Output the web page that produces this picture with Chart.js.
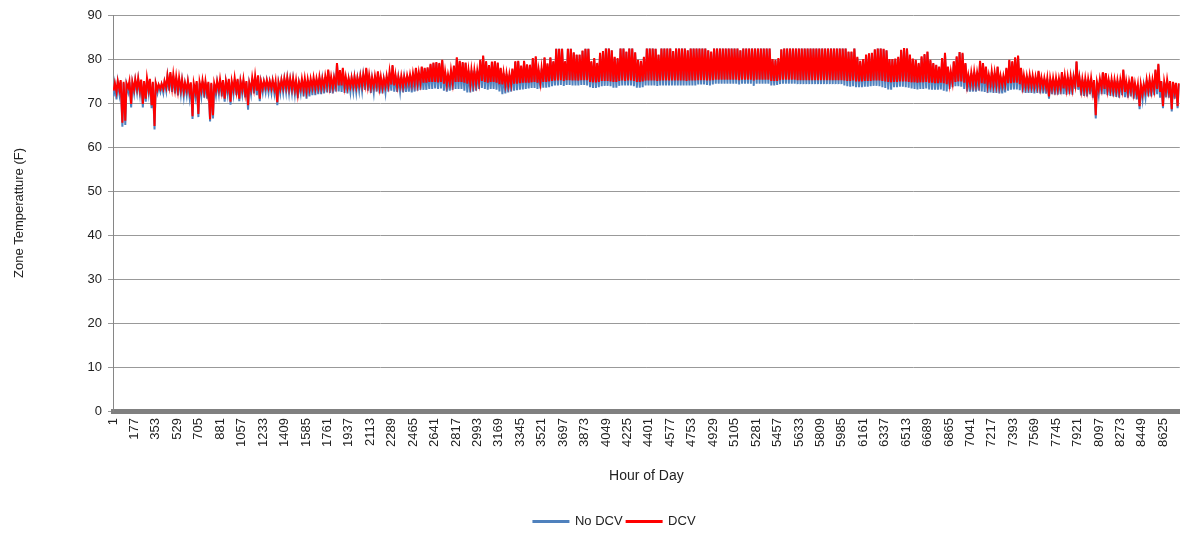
<!DOCTYPE html>
<html>
<head>
<meta charset="utf-8">
<title>Zone Temperature</title>
<script src="https://cdn.jsdelivr.net/npm/chart.js@4"></script>
<style>
  body { margin: 0; background: #fff; }
</style>
</head>
<body>
<canvas id="myChart" width="1186" height="533"></canvas>
<script>
// x軸の目盛りラベル (Hour)
var hourTicks = [1, 177, 353, 529, 705, 881, 1057, 1233, 1409, 1585,
  1761, 1937, 2113, 2289, 2465, 2641, 2817, 2993, 3169, 3345,
  3521, 3697, 3873, 4049, 4225, 4401, 4577, 4753, 4929, 5105,
  5281, 5457, 5633, 5809, 5985, 6161, 6337, 6513, 6689, 6865,
  7041, 7217, 7393, 7569, 7745, 7921, 8097, 8273, 8449, 8625];

// DCV: 1日ごとの最高・最低温度 (F)
var dcvHigh = [
  74.5, 75, 75.2, 74.8, 74.5, 75, 74.8, 75.4, 75.6, 75.3,
  75, 75.7, 75.5, 74.8, 74.5, 74.2, 74.4, 75, 76.3, 77,
  76.5, 76, 75.8, 75.3, 74.6, 75, 74.7, 74.5, 75, 74.8,
  75.2, 75, 74.8, 74.6, 74.5, 75, 75.4, 75.2, 75, 75.5,
  75, 75.7, 75.5, 75, 75.4, 75, 74.6, 75.8, 76.2, 76.3,
  75, 75, 75.2, 75, 75.2, 75, 74.8, 75.3, 75.6, 75.8,
  75.5, 75.6, 75.2, 74.8, 75.5, 75.6, 75.4, 75.5, 75.8, 75.6,
  76, 75.6, 76.2, 77.6, 76, 75.8, 79.1, 77.5, 78, 76,
  75.6, 75.8, 76, 75.8, 76.2, 76.5, 78, 76.4, 75.8, 76.2,
  77.2, 76, 75.6, 76.2, 77.2, 78.6, 76.5, 76, 76.2, 76,
  76.3, 76.5, 76.8, 78, 77, 78.3, 78, 78.1, 78.9, 79.2,
  79.3, 79.1, 79.8, 77.2, 76.5, 77.5, 78.5, 80.4, 79.6, 79.3,
  79.2, 77.5, 77.6, 77.5, 77.4, 79.8, 80.8, 79.5, 78.6, 79.4,
  79.5, 79.2, 78, 77, 76.8, 76.6, 77.8, 79.5, 79.6, 78.5,
  79.6, 78.8, 78.7, 80.2, 80.6, 77.6, 78, 80.4, 79, 80.4,
  79.5, 82.3, 82.3, 82.3, 79.5, 82.3, 82.3, 81.5, 81, 81,
  81.9, 82.3, 82.3, 79.5, 80.2, 79.1, 81.4, 81.8, 82.4, 82.4,
  82, 80.5, 80.2, 82.4, 82.4, 81.7, 82.4, 82.4, 81.5, 79.8,
  79.6, 80.5, 82.4, 82.4, 82.4, 82.3, 81, 82.4, 82.4, 82.4,
  82.4, 81.8, 82.4, 82.4, 82.4, 82.4, 82, 82.4, 82.4, 82.4,
  82.4, 82.4, 82.4, 82, 81.7, 82.4, 82.4, 82.4, 82.4, 82.4,
  82.4, 82.4, 82.4, 82.4, 82, 82.4, 82.4, 82.4, 82.4, 82.4,
  82.4, 82.4, 82.4, 82.4, 82.4, 80, 79.8, 80.2, 82.2, 82.4,
  82.4, 82.4, 82.4, 82.4, 82.4, 82.4, 82.4, 82.4, 82.4, 82.4,
  82.4, 82.4, 82.4, 82.4, 82.4, 82.4, 82.4, 82.4, 82.4, 82.4,
  82.4, 81.7, 81.7, 82.4, 80.5, 79.6, 80, 81, 81.3, 81.4,
  82.2, 82.4, 82.4, 82.3, 82, 80, 80, 80.1, 80.5, 82.1,
  82.5, 82.4, 81, 80.1, 79.8, 79.1, 80.6, 81.1, 81.7, 79.8,
  79.1, 78.7, 78.3, 80.2, 81.4, 78.3, 77.2, 79.5, 80.6, 81.6,
  81.4, 79.1, 76.4, 77, 77.2, 77, 79.6, 79.1, 78.3, 76.4,
  77.2, 77, 78.3, 76.2, 76.2, 78, 79.8, 79.5, 80.4, 80.8,
  78, 76.3, 76.2, 76.4, 76.2, 76, 77.3, 75.8, 75.7, 75.7,
  75.6, 75.7, 75.7, 75.6, 77, 76.2, 76, 76.1, 76, 79.5,
  75.8, 75.5, 75.6, 75.5, 75.7, 75.2, 74.8, 75.5, 77, 76.8,
  75.3, 75.4, 75.3, 75.2, 75.3, 77.6, 75, 74.9, 76, 74.5,
  74.2, 74.3, 74.2, 75.3, 75.4, 75.3, 77.6, 78.9, 75, 74.9,
  75.3, 75, 74.8, 74.6, 74.5
];
var dcvLow = [
  72.8, 72.5, 73, 65.5, 66, 73.5, 69.8, 73, 73.2, 72.8,
  69.8, 71, 73, 69.5, 64.8, 73, 73.2, 73.2, 73.5, 73.8,
  73.5, 73.2, 72.8, 73, 72.6, 72.8, 72.5, 67, 72.5, 67.5,
  72.8, 72.6, 72.2, 66.3, 67.2, 72.8, 73, 72.6, 71, 73,
  70.3, 73, 72.7, 71, 73, 72.2, 69.5, 73, 73.2, 72.8,
  71, 73.3, 73.5, 73.4, 73.3, 73.2, 70.2, 73.2, 73.4, 73.5,
  73.3, 73.2, 73, 72, 73.2, 73, 72.8, 73.2, 73.5, 73.4,
  73.6, 73.5, 73.7, 74, 73.8, 73.6, 74, 74, 74, 73.8,
  73.6, 73.8, 73.8, 73.7, 74, 74, 74.2, 74, 73.6, 73.8,
  74, 73.6, 73.5, 73.8, 74, 74.2, 74, 73.8, 74, 73.8,
  74.3, 74.5, 74.3, 74.5, 74.5, 74.6, 74.6, 74.6, 74.8, 74.8,
  74.8, 74.7, 74.8, 74.4, 74.3, 74.5, 74.6, 74.8, 74.8, 74.8,
  74.6, 74.4, 74.4, 74.5, 74.5, 74.8, 75, 74.8, 74.6, 74.8,
  74.8, 74.6, 74.3, 74.2, 74.2, 74.2, 74.3, 74.4, 74.4, 74.5,
  74.6, 74.6, 74.6, 74.7, 74.8, 74.6, 74.6, 74.8, 74.8, 74.9,
  75, 75.1, 75.1, 75.2, 75, 75.2, 75.2, 75.1, 75.1, 75.1,
  75.2, 75.2, 75.2, 74.8, 74.7, 74.7, 74.8, 75, 75, 75,
  74.9, 74.8, 74.8, 75, 75.1, 75, 75.1, 75.1, 75, 74.8,
  74.8, 74.9, 75.1, 75.1, 75.1, 75.1, 75, 75.1, 75.1, 75.1,
  75.1, 75.1, 75.1, 75.1, 75.1, 75.1, 75, 75.1, 75.1, 75.1,
  75.2, 75.2, 75.2, 75.1, 75.1, 75.2, 75.3, 75.3, 75.3, 75.3,
  75.3, 75.3, 75.3, 75.3, 75.2, 75.3, 75.3, 75.3, 75.3, 75.1,
  75.3, 75.3, 75.3, 75.3, 75.3, 75, 75, 75, 75.2, 75.3,
  75.3, 75.3, 75.3, 75.3, 75.2, 75.2, 75.2, 75.2, 75.2, 75.2,
  75.2, 75.2, 75.2, 75.2, 75.2, 75.2, 75.2, 75.2, 75.2, 75.2,
  75.1, 75, 75, 75.1, 74.9, 74.9, 74.9, 75, 75, 75,
  75.1, 75.1, 75.1, 75, 74.9, 74.8, 74.7, 74.8, 74.8, 74.9,
  74.9, 74.9, 74.8, 74.7, 74.7, 74.6, 74.7, 74.7, 74.8, 74.6,
  74.6, 74.5, 74.5, 74.6, 74.5, 74.3, 74.5, 74.7, 74.8, 74.9,
  74.9, 74.6, 74.2, 74.3, 74.4, 74.4, 74.6, 74.5, 74.4, 74.2,
  74.3, 74.2, 74.3, 74.1, 74.1, 74.3, 74.5, 74.5, 74.6, 74.6,
  74.3, 74, 73.9, 73.9, 73.9, 73.8, 73.9, 73.7, 73.7, 73.6,
  71.5, 73.3, 73.2, 73.2, 73.4, 73.3, 73.2, 73.3, 73.2, 74,
  73.6, 72.9, 72.9, 72.8, 73.2, 72.5, 67.2, 73, 73.3, 73.2,
  73, 73, 72.8, 72.8, 72.6, 73, 72.5, 72.4, 72.8, 72.3,
  72.2, 69.3, 72, 72.6, 72.8, 72.7, 73, 73.2, 72.5, 69.3,
  72.6, 72.5, 68.6, 72.3, 69.3
];

// No DCV: 1日ごとの最高・最低温度 (F)
var noDcvHigh = [
  74.2, 74.7, 74.9, 74.5, 74.2, 74.7, 74.5, 75.1, 75.3, 75,
  74.7, 75.4, 75.2, 74.5, 74.2, 73.9, 74.1, 74.7, 76, 76.7,
  76.2, 75.7, 75.5, 75, 74.3, 74.7, 74.4, 74.2, 74.7, 74.5,
  74.9, 74.7, 74.5, 74.3, 74.2, 74.7, 75.1, 74.9, 74.7, 75.2,
  74.7, 75.4, 75.2, 74.7, 75.1, 74.7, 74.3, 75.5, 75.9, 76,
  74.7, 74.7, 74.9, 74.7, 74.9, 74.7, 74.5, 75, 75.3, 75.5,
  75.2, 75.3, 74.9, 74.5, 75.2, 75.3, 75.1, 75.2, 75.5, 75.3,
  75.7, 75.3, 75.9, 77.3, 75.7, 75.5, 78.9, 77.2, 77.7, 75.7,
  75.3, 75.5, 75.7, 75.5, 75.9, 76.2, 77.7, 76.1, 75.5, 75.9,
  76.9, 75.7, 75.3, 75.9, 76.9, 78.4, 76.2, 75.7, 75.9, 75.7,
  76, 76.2, 76.5, 77.8, 76.8, 78.1, 77.8, 77.9, 78.7, 79,
  79.1, 78.9, 79.6, 77, 76.3, 77.3, 78.3, 80.2, 79.4, 79.1,
  79, 77.3, 77.4, 77.3, 77.2, 79.6, 80.6, 79.3, 78.4, 79.2,
  79.3, 79, 77.8, 76.8, 76.6, 76.4, 77.6, 79.3, 79.4, 78.3,
  79.4, 78.6, 78.5, 80, 80.4, 77.4, 77.8, 80.2, 78.8, 80.2,
  79.3, 82.3, 82.3, 82.3, 79.3, 82.3, 82.3, 81.4, 80.9, 80.9,
  81.8, 82.3, 82.3, 79.3, 80, 78.9, 81.3, 81.7, 82.4, 82.4,
  81.9, 80.3, 80, 82.4, 82.4, 81.6, 82.4, 82.4, 81.4, 79.6,
  79.4, 80.3, 82.4, 82.4, 82.4, 82.3, 80.9, 82.4, 82.4, 82.4,
  82.4, 81.7, 82.4, 82.4, 82.4, 82.4, 81.9, 82.4, 82.4, 82.4,
  82.4, 82.4, 82.4, 81.9, 81.6, 82.4, 82.4, 82.4, 82.4, 82.4,
  82.4, 82.4, 82.4, 82.4, 81.9, 82.4, 82.4, 82.4, 82.4, 82.4,
  82.4, 82.4, 82.4, 82.4, 82.4, 79.8, 79.6, 80, 82.1, 82.4,
  82.4, 82.4, 82.4, 82.4, 82.4, 82.4, 82.4, 82.4, 82.4, 82.4,
  82.4, 82.4, 82.4, 82.4, 82.4, 82.4, 82.4, 82.4, 82.4, 82.4,
  82.4, 81.6, 81.6, 82.4, 80.3, 79.4, 79.8, 80.9, 81.2, 81.3,
  82.1, 82.4, 82.4, 82.2, 81.9, 79.8, 79.8, 79.9, 80.3, 82,
  82.5, 82.4, 80.8, 79.9, 79.6, 78.9, 80.4, 80.9, 81.6, 79.6,
  78.9, 78.5, 78.1, 80, 81.2, 78.1, 77, 79.3, 80.4, 81.5,
  81.2, 78.9, 76.2, 76.8, 77, 76.8, 79.4, 78.9, 78.1, 76.2,
  77, 76.8, 78.1, 76, 76, 77.8, 79.6, 79.3, 80.2, 80.6,
  77.8, 76.1, 76, 76.2, 76, 75.8, 77.1, 75.6, 75.5, 75.5,
  75.4, 75.5, 75.5, 75.4, 76.8, 76, 75.8, 75.9, 75.8, 79.3,
  75.6, 75.3, 75.4, 75.3, 75.5, 75, 74.6, 75.3, 76.8, 76.6,
  75.1, 75.2, 75.1, 75, 75.1, 77.4, 74.8, 74.7, 75.8, 74.3,
  74, 74.1, 74, 75.1, 75.2, 75.1, 77.4, 78.7, 74.8, 74.7,
  75.1, 74.8, 74.6, 74.4, 74.3
];
var noDcvLow = [
  71.5, 70.8, 72, 64.6, 65, 72.5, 69, 72.2, 72.4, 72,
  69, 70.3, 72.2, 68.8, 64, 72.3, 72.5, 72.3, 72.7, 72.8,
  72.5, 72.2, 71.7, 72, 71.5, 71.8, 71.3, 66.4, 71.5, 66.8,
  71.6, 71.2, 71, 65.8, 66.5, 71.8, 72, 71.5, 70.3, 72,
  69.6, 72, 71.8, 70.4, 72, 71.3, 68.5, 72, 72.2, 71.8,
  70.4, 72.4, 72.5, 72.4, 72.3, 72.2, 69.5, 72.2, 72.4, 72.5,
  72.3, 72.3, 72, 71.1, 72.2, 71.5, 71, 71.5, 71.8, 71.8,
  72, 72, 72.2, 72.4, 72.3, 72.2, 72.6, 72.6, 72.5, 72.3,
  72.2, 72.5, 72.6, 72.5, 72.8, 72.8, 73, 72.8, 72.3, 72.4,
  72.6, 72.2, 72.2, 72.4, 72.6, 72.8, 72.6, 72.5, 72.6, 72.4,
  72.5, 72.6, 72.4, 72.6, 72.8, 73, 73, 73, 73.2, 73.2,
  73.3, 73.2, 73.3, 72.8, 72.6, 72.8, 73, 73.2, 73.2, 73.2,
  72.8, 72.4, 72.4, 72.6, 72.8, 73.2, 73.4, 73.2, 73, 73.2,
  73.2, 73, 72.6, 72, 72.2, 72.4, 72.6, 72.8, 72.9, 73,
  73.1, 73.2, 73.3, 73.4, 73.4, 73.2, 73.3, 73.5, 73.5, 73.6,
  73.8, 74, 74, 74.1, 73.9, 74.1, 74.1, 74, 74, 74,
  74.1, 74.1, 74, 73.6, 73.4, 73.4, 73.6, 73.8, 73.9, 73.9,
  73.8, 73.5, 73.5, 73.9, 74, 74, 74, 74, 73.8, 73.5,
  73.5, 73.6, 74, 74, 74, 74, 73.9, 74, 74, 74,
  74, 74, 74, 74, 74, 74, 74, 74, 74, 74,
  74.2, 74.2, 74.2, 74.1, 74, 74.2, 74.4, 74.4, 74.4, 74.4,
  74.4, 74.4, 74.4, 74.4, 74.2, 74.4, 74.4, 74.4, 74.4, 73.9,
  74.4, 74.4, 74.4, 74.4, 74.4, 74, 74, 74.1, 74.3, 74.4,
  74.4, 74.4, 74.4, 74.4, 74.3, 74.3, 74.3, 74.3, 74.3, 74.3,
  74.3, 74.3, 74.3, 74.3, 74.3, 74.3, 74.3, 74.3, 74.3, 74.3,
  74, 73.8, 73.7, 73.8, 73.6, 73.6, 73.6, 73.7, 73.7, 73.8,
  73.9, 73.9, 73.8, 73.6, 73.4, 73.1, 73, 73.6, 73.6, 73.7,
  73.7, 73.6, 73.5, 73.3, 73.2, 73.1, 73.2, 73.2, 73.3, 73.1,
  73, 73, 73, 73.1, 72.8, 72.6, 73.2, 73.6, 73.8, 73.8,
  73.7, 73.2, 72.6, 72.6, 72.6, 72.6, 72.8, 72.6, 72.5, 72.3,
  72.4, 72.3, 72.3, 72.2, 72.2, 72.4, 72.8, 73, 73.1, 73.1,
  72.9, 72.4, 72.3, 72.3, 72.3, 72.2, 72.3, 72.2, 72.2, 72.1,
  71, 72, 71.9, 71.9, 72, 72, 71.9, 72, 71.9, 73.2,
  73, 71.7, 71.6, 71.5, 72, 71.2, 66.5, 71.8, 72, 72,
  71.8, 71.6, 71.5, 71.4, 71.2, 71.8, 71.3, 71.2, 71.5, 71,
  70.8, 68.6, 70.8, 71.3, 71.5, 71.5, 71.8, 72, 71.2, 68.8,
  71.3, 71.2, 68.1, 71, 68.8
];

// 1日の最低(朝)と最高(午後)を時刻付きの点にする
function buildSeries(lows, highs) {
  var pts = [];
  for (var d = 0; d < lows.length; d++) {
    pts.push({ x: d * 24 + 6, y: lows[d] });
    pts.push({ x: d * 24 + 16, y: highs[d] });
  }
  return pts;
}

Chart.defaults.font.family = "'Liberation Sans', Arial, sans-serif";
Chart.defaults.color = '#222';

// 凡例の位置を少しずらす (右へ、下へ)
var legendShift = {
  id: 'legendShift',
  afterLayout: function (chart) {
    var lg = chart.legend;
    if (lg) {
      lg.left += 36;
      lg.top += 5;
      lg.bottom += 5;
    }
  }
};

var ctx = document.getElementById('myChart');
var myChart = new Chart(ctx, {
  type: 'line',
  data: {
    datasets: [
      { label: 'No DCV', data: buildSeries(noDcvLow, noDcvHigh), borderColor: '#4F81BD', backgroundColor: '#4F81BD',
        borderWidth: 2, pointRadius: 0, order: 1 },
      { label: 'DCV', data: buildSeries(dcvLow, dcvHigh), borderColor: '#FF0000', backgroundColor: '#FF0000',
        borderWidth: 2, pointRadius: 0, order: 0 }
    ]
  },
  options: {
    responsive: false,
    animation: false,
    layout: { padding: { left: 10, top: 15, right: 3, bottom: 0 } },
    plugins: {
      legend: {
        position: 'bottom',
        labels: {
          boxWidth: 35, boxHeight: 1, padding: 4, font: { size: 13 },
          sort: function (a, b) { return a.datasetIndex - b.datasetIndex; }
        }
      },
      tooltip: { enabled: false }
    },
    scales: {
      x: {
        type: 'linear', min: 1, max: 8760,
        afterBuildTicks: function (s) { s.ticks = hourTicks.map(function (v) { return { value: v }; }); },
        afterFit: function (s) { s.height = 95; },
        ticks: { minRotation: 90, maxRotation: 90, autoSkip: false, padding: 7, font: { size: 13 },
          callback: function (v) { return String(v); } },
        grid: { display: true, drawOnChartArea: false, drawTicks: false },
        border: { display: true, color: '#808080', width: 5 },
        title: { display: true, text: 'Hour of Day', font: { size: 14 }, padding: { top: 4, bottom: 21 } }
      },
      y: {
        min: 0, max: 90,
        afterFit: function (s) { s.width = 103; },
        ticks: { stepSize: 10, font: { size: 13 }, padding: 6 },
        grid: { color: '#999', tickLength: 5 },
        border: { color: '#868686' },
        title: { display: true, text: 'Zone Temperatture (F)', font: { size: 13 }, padding: { top: 2, bottom: 0 } }
      }
    }
  },
  plugins: [legendShift]
});
</script>
</body>
</html>
